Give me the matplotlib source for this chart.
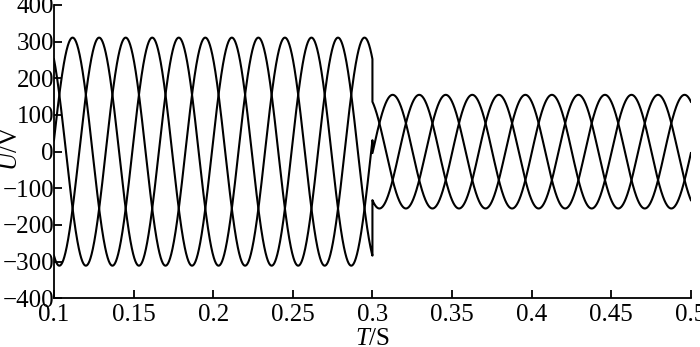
import numpy as np
from matplotlib import pyplot as plt

# values
t_start, t_switch, t_end = 0.1, 0.3, 0.5
period = 0.05                      # one phase period, s
amp_before = 311.0                 # V, before the switch
amp_after = 155.0                  # V, after the switch
peak_before = 0.1117               # time of a phase-A peak before the switch
peak_after = 0.3127                # time of a phase-A peak after the switch
phase_shifts = [0.0, -120.0, 120.0]  # degrees, phases A, B, C

x_ticks = [0.1, 0.15, 0.2, 0.25, 0.3, 0.35, 0.4, 0.45, 0.5]
x_tick_labels = ["0.1", "0.15", "0.2", "0.25", "0.3", "0.35", "0.4", "0.45", "0.5"]
y_ticks = [-400, -300, -200, -100, 0, 100, 200, 300, 400]

plt.rcParams["font.family"] = ["Liberation Serif", "DejaVu Serif"]
plt.rcParams["mathtext.fontset"] = "custom"
plt.rcParams["mathtext.it"] = "Liberation Serif:italic"
plt.rcParams["mathtext.rm"] = "Liberation Serif"

t1 = np.linspace(t_start, t_switch, 2000)
t2 = np.linspace(t_switch, t_end, 2000)

fig = plt.figure(figsize=[7.0, 3.47], dpi=100)
ax = fig.add_axes([0.0771, 0.1403, 0.9099, 0.8453])

for shift in phase_shifts:
    w = 2 * np.pi / period
    u1 = amp_before * np.cos(w * (t1 - peak_before) + np.radians(shift))
    u2 = amp_after * np.cos(w * (t2 - peak_after) + np.radians(shift))
    ax.plot(np.concatenate([t1, t2]), np.concatenate([u1, u2]),
            color="black", linewidth=1.5)

ax.set_xlim(t_start, t_end)
ax.set_ylim(-400, 400)
ax.set_xticks(x_ticks)
ax.set_xticklabels(x_tick_labels)
ax.set_yticks(y_ticks)
ax.set_yticklabels([str(v).replace("-", "\u2212") for v in y_ticks])
ax.spines["top"].set_visible(False)
ax.spines["right"].set_visible(False)
ax.spines["left"].set_linewidth(1.3)
ax.spines["bottom"].set_linewidth(1.3)
ax.tick_params(direction="in", length=6, width=1.3, labelsize=18)
ax.tick_params(axis="y", pad=0)
ax.tick_params(axis="x", pad=4)

ax.set_xlabel("$\\mathit{T}$/S", fontsize=18)
ax.set_ylabel("$\\mathit{U}$/V", fontsize=18)
ax.xaxis.set_label_coords(0.5, -0.1)
ax.yaxis.set_label_coords(-0.05, 0.51)

fig.savefig("out.png", dpi=100)
